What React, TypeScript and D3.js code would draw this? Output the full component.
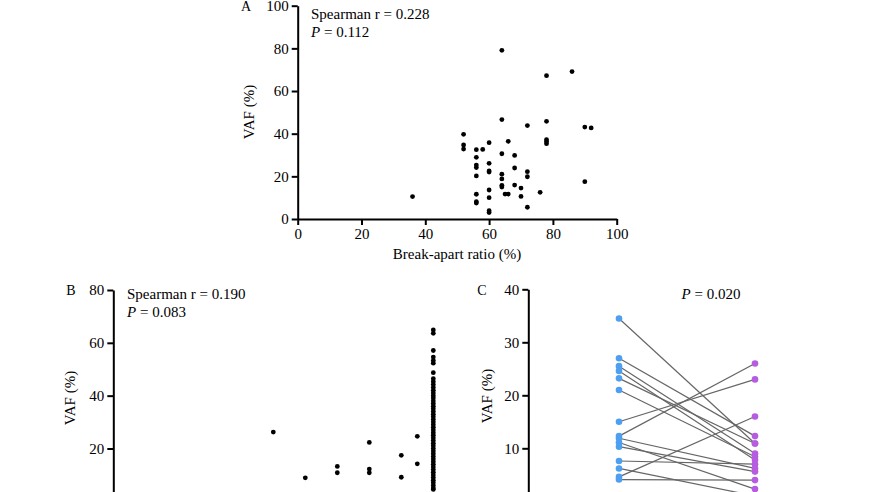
import React, { useEffect, useRef } from "react";
import * as d3 from "d3";

// Panel A: break-apart ratio (%) vs VAF (%)
const aRatio = [36, 52, 52, 52, 56, 58, 56, 56, 56, 56, 56, 56, 56, 60, 60, 60, 60, 60, 60, 60, 60, 64, 64, 64, 64, 64, 64, 64, 65, 66, 66, 68, 68, 68, 70, 70, 72, 72, 72, 72, 76, 78, 78, 78, 78, 78, 86, 90, 92, 90];
const aVaf = [10.5, 39.7, 34.7, 32.8, 32.5, 32.6, 28.9, 25.3, 24.1, 20.2, 11.6, 8.1, 7.5, 35.8, 26.1, 22.5, 22.0, 13.6, 10.0, 3.9, 3.0, 79.1, 46.6, 30.6, 21.0, 18.8, 15.8, 15.0, 11.7, 11.7, 36.4, 29.8, 23.9, 15.9, 14.5, 10.6, 43.8, 22.2, 19.8, 5.5, 12.5, 67.2, 45.8, 37.2, 36.3, 35.3, 69.1, 43.1, 42.7, 17.5];

// Panel B
const bX = [50, 60, 70, 70, 80, 80, 80, 90, 90, 95, 95,
  100, 100, 100, 100, 100, 100, 100, 100, 100, 100, 100, 100, 100, 100, 100, 100, 100, 100, 100, 100,
  100, 100, 100, 100, 100, 100, 100, 100, 100, 100, 100, 100, 100, 100, 100, 100, 100, 100, 100, 100,
  100, 100, 100, 100, 100, 100, 100, 100];
const bY = [26.2, 8.9, 13.2, 10.8, 22.3, 12.2, 10.8, 17.4, 9.1, 24.6, 14.2,
  64.9, 63.6, 57.1, 54.6, 53.3, 52.3, 48.7, 46.4, 45.3, 44.2, 43.1, 42.0, 41.0, 40.0, 39.1, 38.0, 37.0,
  36.0, 35.0, 34.0, 33.0, 32.0, 31.0, 30.0, 29.0, 28.0, 27.0, 26.0, 25.0, 24.0, 23.0, 22.0, 21.0, 20.0,
  19.0, 18.0, 17.0, 16.0, 15.0, 14.0, 13.0, 12.0, 11.0, 10.0, 9.0, 8.0, 7.0, 6.0];
const bExtra = [5.0, 4.5];

// Panel C: paired values
const cGroups = ["Group 1", "Group 2"];
const cBefore = [34.5, 27.0, 25.5, 24.6, 23.2, 21.0, 15.0, 12.3, 11.9, 11.1, 10.3, 7.6, 6.2, 4.6, 4.1];
const cAfter = [10.9, 12.3, 9.0, 7.8, 10.9, 8.4, 23.0, 26.0, 6.2, 2.3, 5.6, 7.0, 1.0, 16.0, 4.0];

const aTicksY = [0, 20, 40, 60, 80, 100];
const aTicksX = [0, 20, 40, 60, 80, 100];
const bTicksY = [20, 40, 60, 80];
const cTicksY = [10, 20, 30, 40];

const FONT = "'Liberation Serif', 'Times New Roman', Times, serif";
const BLUE = "#4f9ff0";
const PURPLE = "#b65ce0";

export default function App() {
  const ref = useRef<SVGSVGElement | null>(null);

  useEffect(() => {
    const svg = d3.select(ref.current);
    svg.selectAll("*").remove();

    const styleAxis = (g: any) => {
      g.attr("font-family", null).attr("font-size", null);
      g.selectAll(".domain").attr("stroke", "#000").attr("stroke-width", 2);
      g.selectAll(".tick line").attr("stroke", "#000").attr("stroke-width", 2);
      g.selectAll(".tick text").style("font-family", FONT).style("font-size", "15px").attr("fill", "#000");
    };
    const txt = (g: any, x: number, y: number, size = 15) =>
      g.append("text").attr("x", x).attr("y", y).style("font-family", FONT).style("font-size", `${size}px`).attr("fill", "#000");

    // ---------- Panel A ----------
    const ax = d3.scaleLinear().domain([0, 100]).range([297.7, 616.7]);
    const ay = d3.scaleLinear().domain([0, 100]).range([219, 5.7]);
    const gA = svg.append("g");
    gA.append("g").attr("transform", `translate(0,${ay(0)})`)
      .call(d3.axisBottom(ax).tickValues(aTicksX).tickSize(6).tickSizeOuter(0).tickPadding(3))
      .call(styleAxis);
    gA.append("g").attr("transform", `translate(${ax(0)},0)`)
      .call(d3.axisLeft(ay).tickValues(aTicksY).tickSize(6).tickSizeOuter(0).tickPadding(3))
      .call(styleAxis);
    gA.selectAll("circle.pa").data(aRatio.map((r, i) => [r, aVaf[i]]))
      .enter().append("circle")
      .attr("cx", (d) => ax(d[0])).attr("cy", (d) => ay(d[1])).attr("r", 2.4).attr("fill", "#000");
    txt(gA, 457, 259).attr("text-anchor", "middle").text("Break-apart ratio (%)");
    txt(gA, 0, 0).attr("transform", `translate(254,112) rotate(-90)`).attr("text-anchor", "middle").text("VAF (%)");
    txt(gA, 246, 11, 14).attr("text-anchor", "middle").text("A");
    txt(gA, 311, 19).text("Spearman r = 0.228");
    const tA2 = txt(gA, 311, 37);
    tA2.append("tspan").style("font-style", "italic").text("P");
    tA2.append("tspan").text(" = 0.112");

    // ---------- Panel B ----------
    const bx = d3.scaleLinear().domain([0, 100]).range([113.3, 433.3]);
    const by = d3.scaleLinear().domain([0, 80]).range([501.3, 290]);
    const gB = svg.append("g");
    gB.append("g").attr("transform", `translate(${bx(0)},0)`)
      .call(d3.axisLeft(by).tickValues(bTicksY).tickSize(6).tickSizeOuter(0).tickPadding(3))
      .call(styleAxis);
    const bPts = bX.map((x, i) => [x, bY[i]]).concat(bExtra.map((y) => [100, y]));
    gB.selectAll("circle.pb").data(bPts).enter().append("circle")
      .attr("cx", (d) => bx(d[0])).attr("cy", (d) => by(d[1])).attr("r", 2.4).attr("fill", "#000");
    txt(gB, 0, 0).attr("transform", `translate(75,398) rotate(-90)`).attr("text-anchor", "middle").text("VAF (%)");
    txt(gB, 71, 295, 14).attr("text-anchor", "middle").text("B");
    txt(gB, 127, 299).text("Spearman r = 0.190");
    const tB2 = txt(gB, 127, 317);
    tB2.append("tspan").style("font-style", "italic").text("P");
    tB2.append("tspan").text(" = 0.083");

    // ---------- Panel C ----------
    const cx = d3.scalePoint().domain(cGroups).range([619, 755]);
    const cy = d3.scaleLinear().domain([0, 40]).range([501.3, 289.3]);
    const gC = svg.append("g");
    gC.append("g").attr("transform", `translate(${528.3},0)`)
      .call(d3.axisLeft(cy).tickValues(cTicksY).tickSize(6).tickSizeOuter(0).tickPadding(3))
      .call(styleAxis);
    const pairs = cBefore.map((b, i) => [b, cAfter[i]]);
    gC.selectAll("line.pair").data(pairs).enter().append("line")
      .attr("x1", cx(cGroups[0])!).attr("x2", cx(cGroups[1])!)
      .attr("y1", (d) => cy(d[0])).attr("y2", (d) => cy(d[1]))
      .attr("stroke", "#666").attr("stroke-width", 1.2);
    gC.selectAll("circle.cb").data(cBefore).enter().append("circle")
      .attr("cx", cx(cGroups[0])!).attr("cy", (d) => cy(d)).attr("r", 3.3).attr("fill", BLUE);
    gC.selectAll("circle.ca").data(cAfter).enter().append("circle")
      .attr("cx", cx(cGroups[1])!).attr("cy", (d) => cy(d)).attr("r", 3.3).attr("fill", PURPLE);
    txt(gC, 0, 0).attr("transform", `translate(492,396) rotate(-90)`).attr("text-anchor", "middle").text("VAF (%)");
    txt(gC, 482, 295, 14).attr("text-anchor", "middle").text("C");
    const tC = txt(gC, 711, 299).attr("text-anchor", "middle");
    tC.append("tspan").style("font-style", "italic").text("P");
    tC.append("tspan").text(" = 0.020");
  }, []);

  return (
    <svg
      ref={ref}
      width={870}
      height={492}
      style={{ position: "absolute", left: 0, top: 0, background: "#fff", overflow: "hidden" }}
    />
  );
}
